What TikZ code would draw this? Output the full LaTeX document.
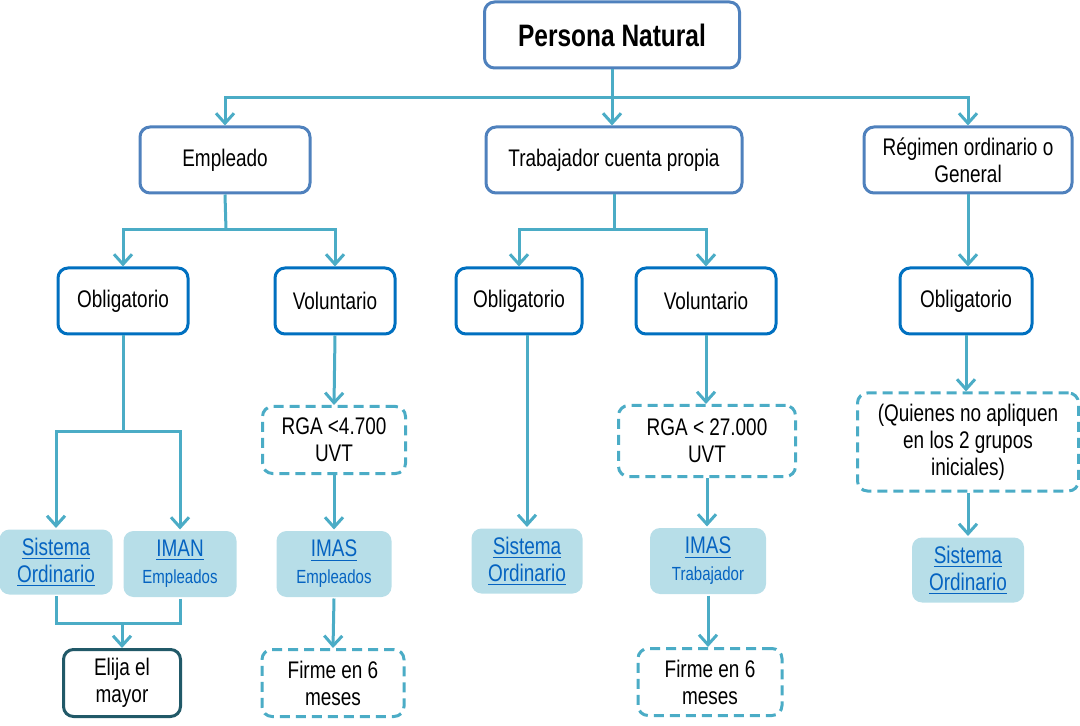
\documentclass[tikz,border=0pt]{standalone}
\usepackage{fontspec}
\setmainfont{Liberation Sans}[FakeStretch=0.79]
\usetikzlibrary{arrows.meta}

\definecolor{azulcaja}{HTML}{4F81BD}
\definecolor{azulmedio}{HTML}{0070C0}
\definecolor{turquesa}{HTML}{4BACC6}
\definecolor{celeste}{HTML}{B7DEE8}
\definecolor{enlace}{HTML}{0563C1}
\definecolor{petroleo}{HTML}{215968}

\newcommand{\vinculo}[1]{\underline{#1}}
\newcommand{\chico}{\fontsize{9.5}{11}\selectfont}

\tikzset{
  caja/.style={draw, rounded corners=5pt, line width=1.5pt, fill=white,
    align=center, inner sep=0pt, font=\fontsize{12}{13.5}\selectfont},
  nivelA/.style={caja, draw=azulcaja},
  nivelB/.style={caja, draw=azulmedio},
  punteada/.style={caja, draw=turquesa, dash pattern=on 5pt off 3pt},
  sistema/.style={caja, draw=none, fill=celeste, text=enlace},
  decision/.style={caja, draw=petroleo},
  flecha/.style={draw=turquesa, line width=1.5pt,
    -{Straight Barb[length=5pt,width=9pt]}},
  linea/.style={draw=turquesa, line width=1.5pt}
}

\begin{document}
\begin{tikzpicture}[x=0.5pt,y=-0.5pt]
	\useasboundingbox (0,0) rectangle (1080,726);
	% raiz
	\node[nivelA, minimum width=127.5pt, minimum height=33pt,
	  font=\fontsize{15.5}{17}\selectfont\bfseries] (persona) at (612,35) {Persona Natural};
	% primer nivel
	\node[nivelA, minimum width=85pt, minimum height=33pt] (empleado) at (225,160) {Empleado};
	\node[nivelA, minimum width=128pt, minimum height=33pt] (trabajador) at (614,160) {Trabajador cuenta propia};
	\node[nivelA, minimum width=104pt, minimum height=33pt] (regimen) at (968,160) {Régimen ordinario o\\General};
	% segundo nivel
	\node[nivelB, minimum width=65pt, minimum height=33pt] (oblig1) at (123,301) {Obligatorio};
	\node[nivelB, minimum width=60pt, minimum height=33pt] (volun1) at (335,301) {Voluntario};
	\node[nivelB, minimum width=63pt, minimum height=33pt] (oblig2) at (519,301) {Obligatorio};
	\node[nivelB, minimum width=70pt, minimum height=33pt] (volun2) at (706,301) {Voluntario};
	\node[nivelB, minimum width=66pt, minimum height=33pt] (oblig3) at (966,301) {Obligatorio};
	% topes
	\node[punteada, minimum width=71.5pt, minimum height=33.5pt] (rga1) at (334,440) {RGA <4.700\\UVT};
	\node[punteada, minimum width=88.5pt, minimum height=35.5pt] (rga2) at (707,441) {RGA < 27.000\\UVT};
	\node[punteada, minimum width=110.5pt, minimum height=49pt] (quienes) at (968,442) {(Quienes no apliquen\\en los 2 grupos\\iniciales)};
	% sistemas
	\node[sistema, minimum width=56.5pt, minimum height=32.5pt] (sis1) at (56,562) {\vinculo{Sistema}\\\vinculo{Ordinario}};
	\node[sistema, minimum width=56.5pt, minimum height=33pt] (iman) at (180,564) {\vinculo{IMAN}\\{\chico Empleados}};
	\node[sistema, minimum width=57.5pt, minimum height=33pt] (imas1) at (334,564) {\vinculo{IMAS}\\{\chico Empleados}};
	\node[sistema, minimum width=55.5pt, minimum height=32.5pt] (sis2) at (527,561) {\vinculo{Sistema}\\\vinculo{Ordinario}};
	\node[sistema, minimum width=58pt, minimum height=33pt] (imas2) at (708,561) {\vinculo{IMAS}\\{\chico Trabajador}};
	\node[sistema, minimum width=56pt, minimum height=32.5pt] (sis3) at (968,570) {\vinculo{Sistema}\\\vinculo{Ordinario}};
	% finales
	\node[decision, minimum width=58.5pt, minimum height=33.5pt] (elija) at (122,683) {Elija el\\mayor};
	\node[punteada, minimum width=71pt, minimum height=33.5pt] (firme1) at (333,683) {Firme en 6\\meses};
	\node[punteada, minimum width=72pt, minimum height=33.5pt] (firme2) at (710,682) {Firme en 6\\meses};

	% puntos de reparto
	\coordinate (bus) at (612,98);
	\coordinate (rE) at (226,230);
	\coordinate (rT) at (614,230);
	\coordinate (rO) at (123,432);
	\coordinate (rJ) at (122,623);

	\draw[linea] (persona.south) -- (bus);
	\draw[flecha] (persona.south) -- (persona.south |- trabajador.north);
	\draw[flecha] (bus) -| (empleado.north);
	\draw[flecha] (bus) -| (regimen.north);

	\draw[linea] (empleado.south) -- (rE);
	\draw[flecha] (rE) -| (oblig1.north);
	\draw[flecha] (rE) -| (volun1.north);
	\draw[linea] (trabajador.south) -- (rT);
	\draw[flecha] (rT) -| (oblig2.north);
	\draw[flecha] (rT) -| (volun2.north);
	\draw[flecha] (regimen.south) -- (regimen.south |- oblig3.north);

	\draw[linea] (oblig1.south) -- (rO);
	\draw[flecha] (rO) -| (sis1.north);
	\draw[flecha] (rO) -| (iman.north);
	\draw[linea] (sis1.south) |- (rJ);
	\draw[linea] (iman.south) |- (rJ);
	\draw[flecha] (rJ) -- (elija.north);

	\draw[flecha] (volun1.south) -- (rga1.north);
	\draw[flecha] (rga1.south) -- (imas1.north);
	\draw[flecha] (imas1.south) -- (firme1.north);

	\draw[flecha] (oblig2.south -| sis2.north) -- (sis2.north);

	\draw[flecha] (volun2.south) -- (volun2.south |- rga2.north);
	\draw[flecha] (rga2.south) -- (rga2.south |- imas2.north);
	\draw[flecha] (imas2.south) -- (imas2.south |- firme2.north);

	\draw[flecha] (oblig3.south) -- (oblig3.south |- quienes.north);
	\draw[flecha] (quienes.south) -- (quienes.south |- sis3.north);
\end{tikzpicture}
\end{document}
